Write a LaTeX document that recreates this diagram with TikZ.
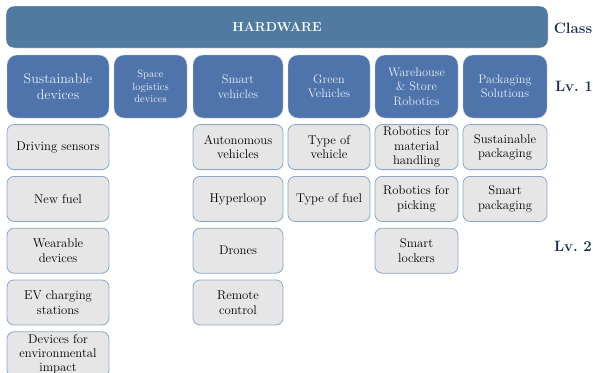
\documentclass[tikz,border=0pt]{standalone}
\usepackage{tikz}
\usetikzlibrary{positioning}
\definecolor{classblue}{RGB}{80,122,160}
\definecolor{lvblue}{RGB}{79,116,172}
\definecolor{cellgray}{RGB}{230,230,230}
\definecolor{cellline}{RGB}{140,168,198}
\definecolor{tagnavy}{RGB}{31,45,78}

\begin{document}
\begin{tikzpicture}[x=1pt,y=-1pt,node distance=6pt]
\tikzstyle{cls}=[draw=white,fill=classblue,rounded corners=8pt,text=white,font=\fontsize{13}{16}\selectfont\bfseries,minimum width=542pt,minimum height=42pt]
\tikzstyle{lvone}=[draw=white!65!lvblue,fill=lvblue,rounded corners=10pt,text=white!88!lvblue,align=center,minimum height=63pt,inner sep=2pt,font=\fontsize{12.3}{14.5}\selectfont]
\tikzstyle{lvtwo}=[draw=cellline,line width=0.8pt,fill=cellgray,rounded corners=7pt,align=center,minimum height=45pt,inner sep=2pt,font=\fontsize{12.7}{14.5}\selectfont]
\tikzstyle{tag}=[text=tagnavy,font=\fontsize{15}{17}\selectfont\bfseries]
\tikzstyle{colA}=[minimum width=102pt]
\tikzstyle{colC}=[minimum width=90pt]
\tikzstyle{colD}=[minimum width=82pt]
\tikzstyle{colE}=[minimum width=83pt]
\tikzstyle{colF}=[minimum width=84pt]
\useasboundingbox (0,0) rectangle (593,372);
% class row
\node[cls] (HW) at (277,27) {HARDWARE};
% level 1
\node[lvone,colA,font=\fontsize{14}{16.5}\selectfont] (SD) at (58,86.5) {Sustainable\\devices};
\node[lvone,minimum width=73pt,font=\fontsize{10.5}{12.5}\selectfont] (SLD) at (150.5,86.5) {Space\\logistics\\devices};
\node[lvone,colC] (SV) at (238,86.5) {Smart\\vehicles};
\node[lvone,colD] (GV) at (329,86.5) {Green\\Vehicles};
\node[lvone,colE] (WSR) at (416.5,86.5) {Warehouse\\\& Store\\Robotics};
\node[lvone,colF] (PS) at (505,86.5) {Packaging\\Solutions};
% level 2
\node[lvtwo,colA,below=of SD] (DS) {Driving sensors};
\node[lvtwo,colA,below=of DS] (NF) {New fuel};
\node[lvtwo,colA,below=of NF] (WD) {Wearable\\devices};
\node[lvtwo,colA,below=of WD] (EV) {EV charging\\stations};
\node[lvtwo,colA,below=of EV,font=\fontsize{12.7}{13.6}\selectfont,inner ysep=0pt] (DEI) {Devices for\\environmental\\impact};
\node[lvtwo,colC,below=of SV] (AV) {Autonomous\\vehicles};
\node[lvtwo,colC,below=of AV] (HL) {Hyperloop};
\node[lvtwo,colC,below=of HL] (DR) {Drones};
\node[lvtwo,colC,below=of DR] (RC) {Remote\\control};
\node[lvtwo,colD,below=of GV] (TV) {Type of\\vehicle};
\node[lvtwo,colD,below=of TV] (TF) {Type of fuel};
\node[lvtwo,colE,below=of WSR] (RMH) {Robotics for\\material\\handling};
\node[lvtwo,colE,below=of RMH] (RP) {Robotics for\\picking};
\node[lvtwo,colE,below=of RP] (SL) {Smart\\lockers};
\node[lvtwo,colF,below=of PS] (SP) {Sustainable\\packaging};
\node[lvtwo,colF,below=of SP] (SMP) {Smart\\packaging};
% row tags
\node[tag] (CL) at (573,28) {Class};
\node[tag] (L1) at (574,86) {Lv.\ 1};
\node[tag] (L2) at (573,246) {Lv.\ 2};
\end{tikzpicture}
\end{document}
